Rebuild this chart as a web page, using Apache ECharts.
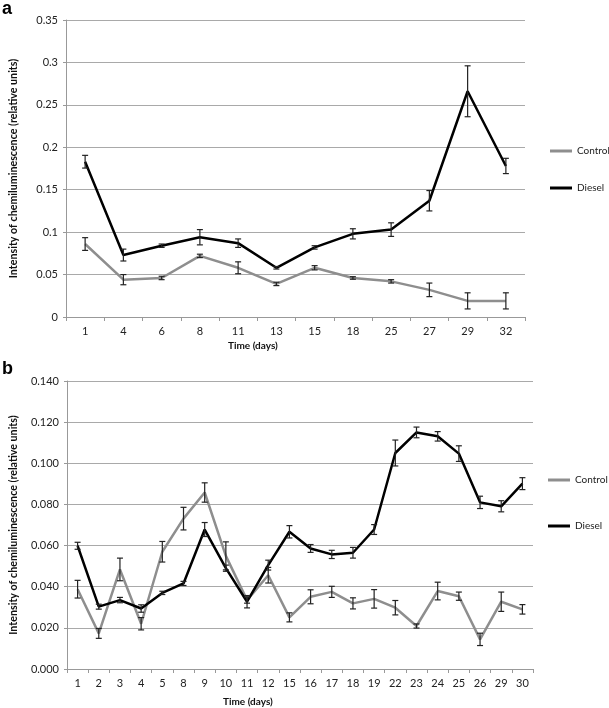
<!DOCTYPE html>
<html>
<head>
<meta charset="utf-8">
<script src="https://cdn.jsdelivr.net/npm/echarts@6/dist/echarts.min.js"></script>
<style>html,body{margin:0;padding:0;background:#fff}#c{width:609px;height:708px}</style>
</head>
<body>
<div id="c"></div>
<script>
// Panel a data
const catsA = ['1','4','6','8','11','13','15','18','25','27','29','32'];
const controlA = [0.086, 0.044, 0.046, 0.072, 0.058, 0.039, 0.058, 0.046, 0.042, 0.032, 0.019, 0.019];
const controlErrA = [0.0075, 0.006, 0.002, 0.002, 0.007, 0.002, 0.0025, 0.0015, 0.002, 0.008, 0.0095, 0.0095];
const dieselA = [0.183, 0.073, 0.084, 0.094, 0.087, 0.058, 0.082, 0.098, 0.103, 0.137, 0.266, 0.178];
const dieselErrA = [0.0075, 0.007, 0.002, 0.009, 0.005, 0.0015, 0.002, 0.006, 0.008, 0.012, 0.03, 0.009];

// Panel b data
const catsB = ['1','2','3','4','5','8','9','10','11','12','15','16','17','18','19','22','23','24','25','26','29','30'];
const controlB = [0.0388, 0.0173, 0.0484, 0.022, 0.057, 0.0731, 0.0858, 0.055, 0.0335, 0.0456, 0.0251, 0.0351, 0.0375, 0.0319, 0.0341, 0.0298, 0.0209, 0.0379, 0.0354, 0.0144, 0.0327, 0.029];
const controlErrB = [0.0043, 0.0024, 0.0055, 0.003, 0.005, 0.0055, 0.0047, 0.0068, 0.0015, 0.0038, 0.0022, 0.0034, 0.0027, 0.0027, 0.0045, 0.0035, 0.001, 0.0043, 0.002, 0.003, 0.0047, 0.0023];
const dieselB = [0.0599, 0.0303, 0.0335, 0.0294, 0.037, 0.0416, 0.0678, 0.049, 0.0327, 0.0505, 0.0667, 0.0586, 0.0557, 0.0565, 0.0678, 0.105, 0.115, 0.1131, 0.1047, 0.081, 0.0791, 0.0901];
const dieselErrB = [0.0017, 0.0012, 0.0013, 0.0018, 0.0008, 0.001, 0.0034, 0.0015, 0.003, 0.0024, 0.003, 0.0019, 0.002, 0.0026, 0.0024, 0.0063, 0.0026, 0.0023, 0.0038, 0.003, 0.0027, 0.0029];

const FONT = 'Lato, "Open Sans", sans-serif';
const GRAY = '#8e8e8e';
const BLACK = '#000';
const GRID_COLOR = '#a9a9a9';

function errData(vals, errs) {
  return vals.map((v, i) => [i, v - errs[i], v + errs[i]]);
}
function errRender(params, api) {
  const x = api.value(0);
  const lo = api.coord([x, api.value(1)]);
  const hi = api.coord([x, api.value(2)]);
  const w = 3;
  const style = { stroke: '#222', lineWidth: 1.2, fill: null };
  return {
    type: 'group',
    children: [
      { type: 'line', shape: { x1: lo[0], y1: lo[1], x2: hi[0], y2: hi[1] }, style },
      { type: 'line', shape: { x1: lo[0] - w, y1: lo[1], x2: lo[0] + w, y2: lo[1] }, style },
      { type: 'line', shape: { x1: hi[0] - w, y1: hi[1], x2: hi[0] + w, y2: hi[1] }, style }
    ]
  };
}

function xAxis(cats, gridIndex) {
  return {
    type: 'category', gridIndex, data: cats, boundaryGap: true,
    axisLine: { lineStyle: { color: '#999', width: 1 } },
    axisTick: { show: true, alignWithLabel: false, length: 4, lineStyle: { color: '#999' } },
    axisLabel: { fontFamily: FONT, fontSize: 11, color: '#222', margin: 9 },
    splitLine: { show: false }
  };
}
function yAxis(max, interval, gridIndex, dec, gap) {
  return {
    type: 'value', gridIndex, min: 0, max, interval,
    name: 'Intensity of chemiluminescence (relative units)',
    nameLocation: 'middle', nameGap: gap,
    nameTextStyle: { fontFamily: FONT, fontSize: 10.7, fontWeight: 'bold', color: '#111' },
    axisLine: { show: true, lineStyle: { color: '#999', width: 1 } },
    axisTick: { show: true, length: 3, lineStyle: { color: '#999' } },
    axisLabel: { fontFamily: FONT, fontSize: 11, color: '#222', margin: 8,
      formatter: v => dec === null ? String(+v.toFixed(4)) : v.toFixed(dec) },
    splitLine: { show: true, lineStyle: { color: GRID_COLOR, width: 1 } }
  };
}
function lineSeries(name, data, color, axisIdx) {
  return {
    type: 'line', name, data, xAxisIndex: axisIdx, yAxisIndex: axisIdx,
    showSymbol: false, symbol: 'none', lineStyle: { color, width: 2.5 }, itemStyle: { color },
    z: 2, animation: false
  };
}
function errSeries(name, vals, errs, axisIdx) {
  return {
    type: 'custom', name: name + ' err', xAxisIndex: axisIdx, yAxisIndex: axisIdx,
    data: errData(vals, errs), renderItem: errRender, encode: { x: 0, y: [1, 2] },
    z: 3, animation: false
  };
}

const chart = echarts.init(document.getElementById('c'), null, { renderer: 'canvas' });
chart.setOption({
  animation: false,
  backgroundColor: '#fff',
  grid: [
    { left: 59, top: 20, width: 466, height: 297 },
    { left: 59, top: 381, width: 474, height: 288 }
  ],
  xAxis: [xAxis(catsA, 0), xAxis(catsB, 1)],
  yAxis: [yAxis(0.35, 0.05, 0, null, 47), yAxis(0.14, 0.02, 1, 3, 48)],
  legend: [
    { orient: 'vertical', left: 545, top: 141, itemWidth: 22, itemHeight: 3, itemGap: 27, icon: 'rect',
      data: ['Control', 'Diesel'], textStyle: { fontFamily: FONT, fontSize: 10, color: '#222' } },
    { orient: 'vertical', left: 543, top: 470, itemWidth: 22, itemHeight: 3, itemGap: 36, icon: 'rect',
      data: ['Control', 'Diesel'], textStyle: { fontFamily: FONT, fontSize: 10, color: '#222' } }
  ],
  graphic: [
    { type: 'text', left: 2, top: 0, style: { text: 'a', font: 'bold 18px Arial, "Liberation Sans", sans-serif', fill: '#000' } },
    { type: 'text', left: 2, top: 360, style: { text: 'b', font: 'bold 18px Arial, "Liberation Sans", sans-serif', fill: '#000' } },
    { type: 'text', left: 228, top: 341, style: { text: 'Time (days)', font: 'bold 10px ' + FONT, fill: '#111' } },
    { type: 'text', left: 223, top: 697, style: { text: 'Time (days)', font: 'bold 10px ' + FONT, fill: '#111' } }
  ],
  series: [
    lineSeries('Control', controlA, GRAY, 0),
    lineSeries('Diesel', dieselA, BLACK, 0),
    errSeries('Control', controlA, controlErrA, 0),
    errSeries('Diesel', dieselA, dieselErrA, 0),
    lineSeries('Control', controlB, GRAY, 1),
    lineSeries('Diesel', dieselB, BLACK, 1),
    errSeries('Control', controlB, controlErrB, 1),
    errSeries('Diesel', dieselB, dieselErrB, 1)
  ]
});
</script>
</body>
</html>
